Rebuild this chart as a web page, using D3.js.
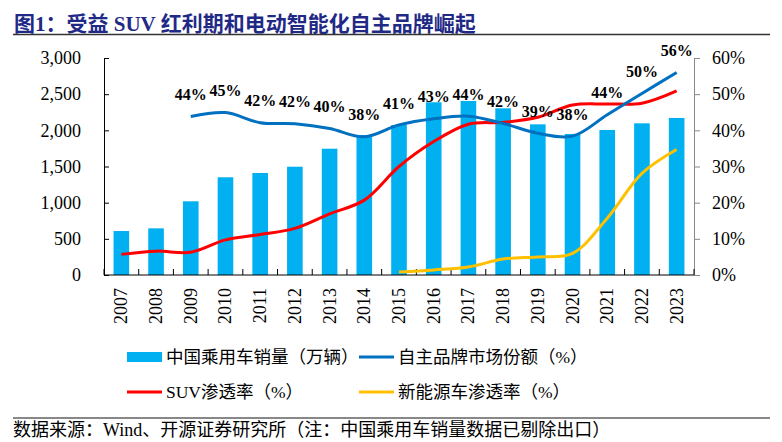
<!DOCTYPE html>
<html><head><meta charset="utf-8">
<script src="https://cdn.jsdelivr.net/npm/d3@7"></script>
<style>
body{margin:0;background:#fff;}
svg{display:block;}
</style></head>
<body>
<svg id="c" width="782" height="442"></svg>
<script>
const years = ["2007","2008","2009","2010","2011","2012","2013","2014","2015","2016","2017","2018","2019","2020","2021","2022","2023"];
const sales = [608,645,1019,1351,1410,1497,1746,1935,2074,2388,2406,2304,2083,1950,2005,2097,2171];
const brandShare = [null,null,43.8,44.9,42.1,41.8,40.5,38.2,41.5,43.2,43.9,41.9,39.2,38.4,44.3,50.2,56.0];
const brandLabels = [null,null,"44%","45%","42%","42%","40%","38%","41%","43%","44%","42%","39%","38%","44%","50%","56%"];
const suvRate = [5.7,6.6,6.3,9.7,11.2,12.9,16.9,20.7,30.0,36.9,41.7,42.2,43.6,47.0,47.3,47.5,50.9];
const nevRate = [null,null,null,null,null,null,null,null,0.8,1.4,2.2,4.4,5.0,6.0,15.7,28.1,34.7];
const leftTicks = [0,500,1000,1500,2000,2500,3000];
const rightTicks = [0,10,20,30,40,50,60];
const titleText = "图1：受益 SUV 红利期和电动智能化自主品牌崛起";
const sourceText = "数据来源：Wind、开源证券研究所（注：中国乘用车销量数据已剔除出口）";
const legendItems = [
  {name:"中国乘用车销量（万辆）", type:"bar", color:"#00B0F0"},
  {name:"自主品牌市场份额（%）", type:"line", color:"#0070C0"},
  {name:"SUV渗透率（%）", type:"line", color:"#FF0000"},
  {name:"新能源车渗透率（%）", type:"line", color:"#FFC000"}
];

const svg = d3.select("#c");
const serif = "'Liberation Serif','Times New Roman',serif";
const cjk = "'Liberation Serif','Noto Sans CJK SC',serif";

const L = 104, R = 694, T = 58, B = 275;
const x = d3.scaleBand().domain(years).range([L, R]).paddingInner(0.55).paddingOuter(0.275);
const xb = d3.scaleBand().domain(years).range([L, R]);
const yL = d3.scaleLinear().domain([0,3000]).range([B, T]);
const yR = d3.scaleLinear().domain([0,60]).range([B, T]);

// title
svg.append("text").attr("x",14).attr("y",31).text(titleText)
  .attr("font-family","'Liberation Serif','Noto Sans CJK SC',serif").attr("font-weight","bold")
  .attr("font-size",21).attr("fill","#1f2a86");
svg.append("line").attr("x1",13).attr("x2",770).attr("y1",34.5).attr("y2",34.5)
  .attr("stroke","#333").attr("stroke-width",1.5);

// bars
svg.append("g").selectAll("rect").data(years).join("rect")
  .attr("x", d=>x(d)).attr("width", x.bandwidth())
  .attr("y", (d,i)=>yL(sales[i])).attr("height",(d,i)=>B - yL(sales[i]))
  .attr("fill","#00B0F0");

// left axis
const gl = svg.append("g").attr("transform",`translate(${L},0)`)
  .call(d3.axisLeft(yL).tickValues(leftTicks).tickSize(-5).tickPadding(23).tickFormat(d3.format(",")));
gl.select(".domain").attr("stroke","#000");
gl.selectAll(".tick line").attr("stroke","#000");
gl.selectAll("text").attr("font-family",serif).attr("font-size",18).attr("fill","#000");

// right axis
const gr = svg.append("g").attr("transform",`translate(${R},0)`)
  .call(d3.axisRight(yR).tickValues(rightTicks).tickSize(6).tickPadding(12).tickFormat(d=>d+"%"));
gr.select(".domain").attr("stroke","#888");
gr.selectAll(".tick line").attr("stroke","#888");
gr.selectAll("text").attr("font-family",serif).attr("font-size",18).attr("fill","#000");

// x axis
const gx = svg.append("g").attr("transform",`translate(0,${B})`);
gx.append("line").attr("x1",L).attr("x2",R).attr("stroke","#000");
gx.selectAll("line.t").data(d3.range(years.length+1)).join("line").attr("class","t")
  .attr("x1",i=>L + i*xb.bandwidth()).attr("x2",i=>L + i*xb.bandwidth())
  .attr("y1",0).attr("y2",-6).attr("stroke","#000");
gx.selectAll("text").data(years).join("text")
  .attr("transform",d=>`translate(${xb(d)+xb.bandwidth()/2+6},13) rotate(-90)`)
  .attr("text-anchor","end").text(d=>d)
  .attr("font-family",serif).attr("font-size",18).attr("fill","#000");

// lines
const cx = i => xb(years[i]) + xb.bandwidth()/2;
function drawLine(vals, color){
  const line = d3.line().defined(d=>d!=null).x((d,i)=>cx(i)).y(d=>yR(d)).curve(d3.curveCatmullRom.alpha(0.5));
  svg.append("path").datum(vals).attr("d",line).attr("fill","none")
    .attr("stroke",color).attr("stroke-width",3).attr("stroke-linejoin","round");
}
drawLine(nevRate,"#FFC000");
drawLine(suvRate,"#FF0000");
drawLine(brandShare,"#0070C0");

// labels
svg.append("g").selectAll("text").data(years).join("text")
  .filter((d,i)=>brandLabels[i]!=null)
  .attr("x",d=>xb(d)+xb.bandwidth()/2)
  .attr("y",d=>yR(brandShare[years.indexOf(d)]) - 22)
  .attr("dy","0.35em").attr("text-anchor","middle")
  .text(d=>brandLabels[years.indexOf(d)])
  .attr("font-family",serif).attr("font-weight","bold").attr("font-size",16).attr("fill","#000");

// legend
const lpos = [[127,357],[359,357],[127,392],[359,392]];
legendItems.forEach((it,k)=>{
  const [lx,ly] = lpos[k];
  if(it.type==="bar"){
    svg.append("rect").attr("x",lx).attr("y",ly-5).attr("width",35).attr("height",10).attr("fill",it.color);
  } else {
    svg.append("line").attr("x1",lx).attr("x2",lx+35).attr("y1",ly).attr("y2",ly)
      .attr("stroke",it.color).attr("stroke-width",3);
  }
  svg.append("text").attr("x",lx+39).attr("y",ly).attr("dy","0.35em").text(it.name)
    .attr("font-family",cjk).attr("font-size",17.5).attr("fill","#000");
});

// footer
svg.append("line").attr("x1",13).attr("x2",770).attr("y1",418).attr("y2",418)
  .attr("stroke","#888").attr("stroke-width",2);
svg.append("text").attr("x",13).attr("y",430).attr("dy","0.35em").text(sourceText)
  .attr("font-family",cjk).attr("font-size",18).attr("fill","#000");
</script>
</body></html>
